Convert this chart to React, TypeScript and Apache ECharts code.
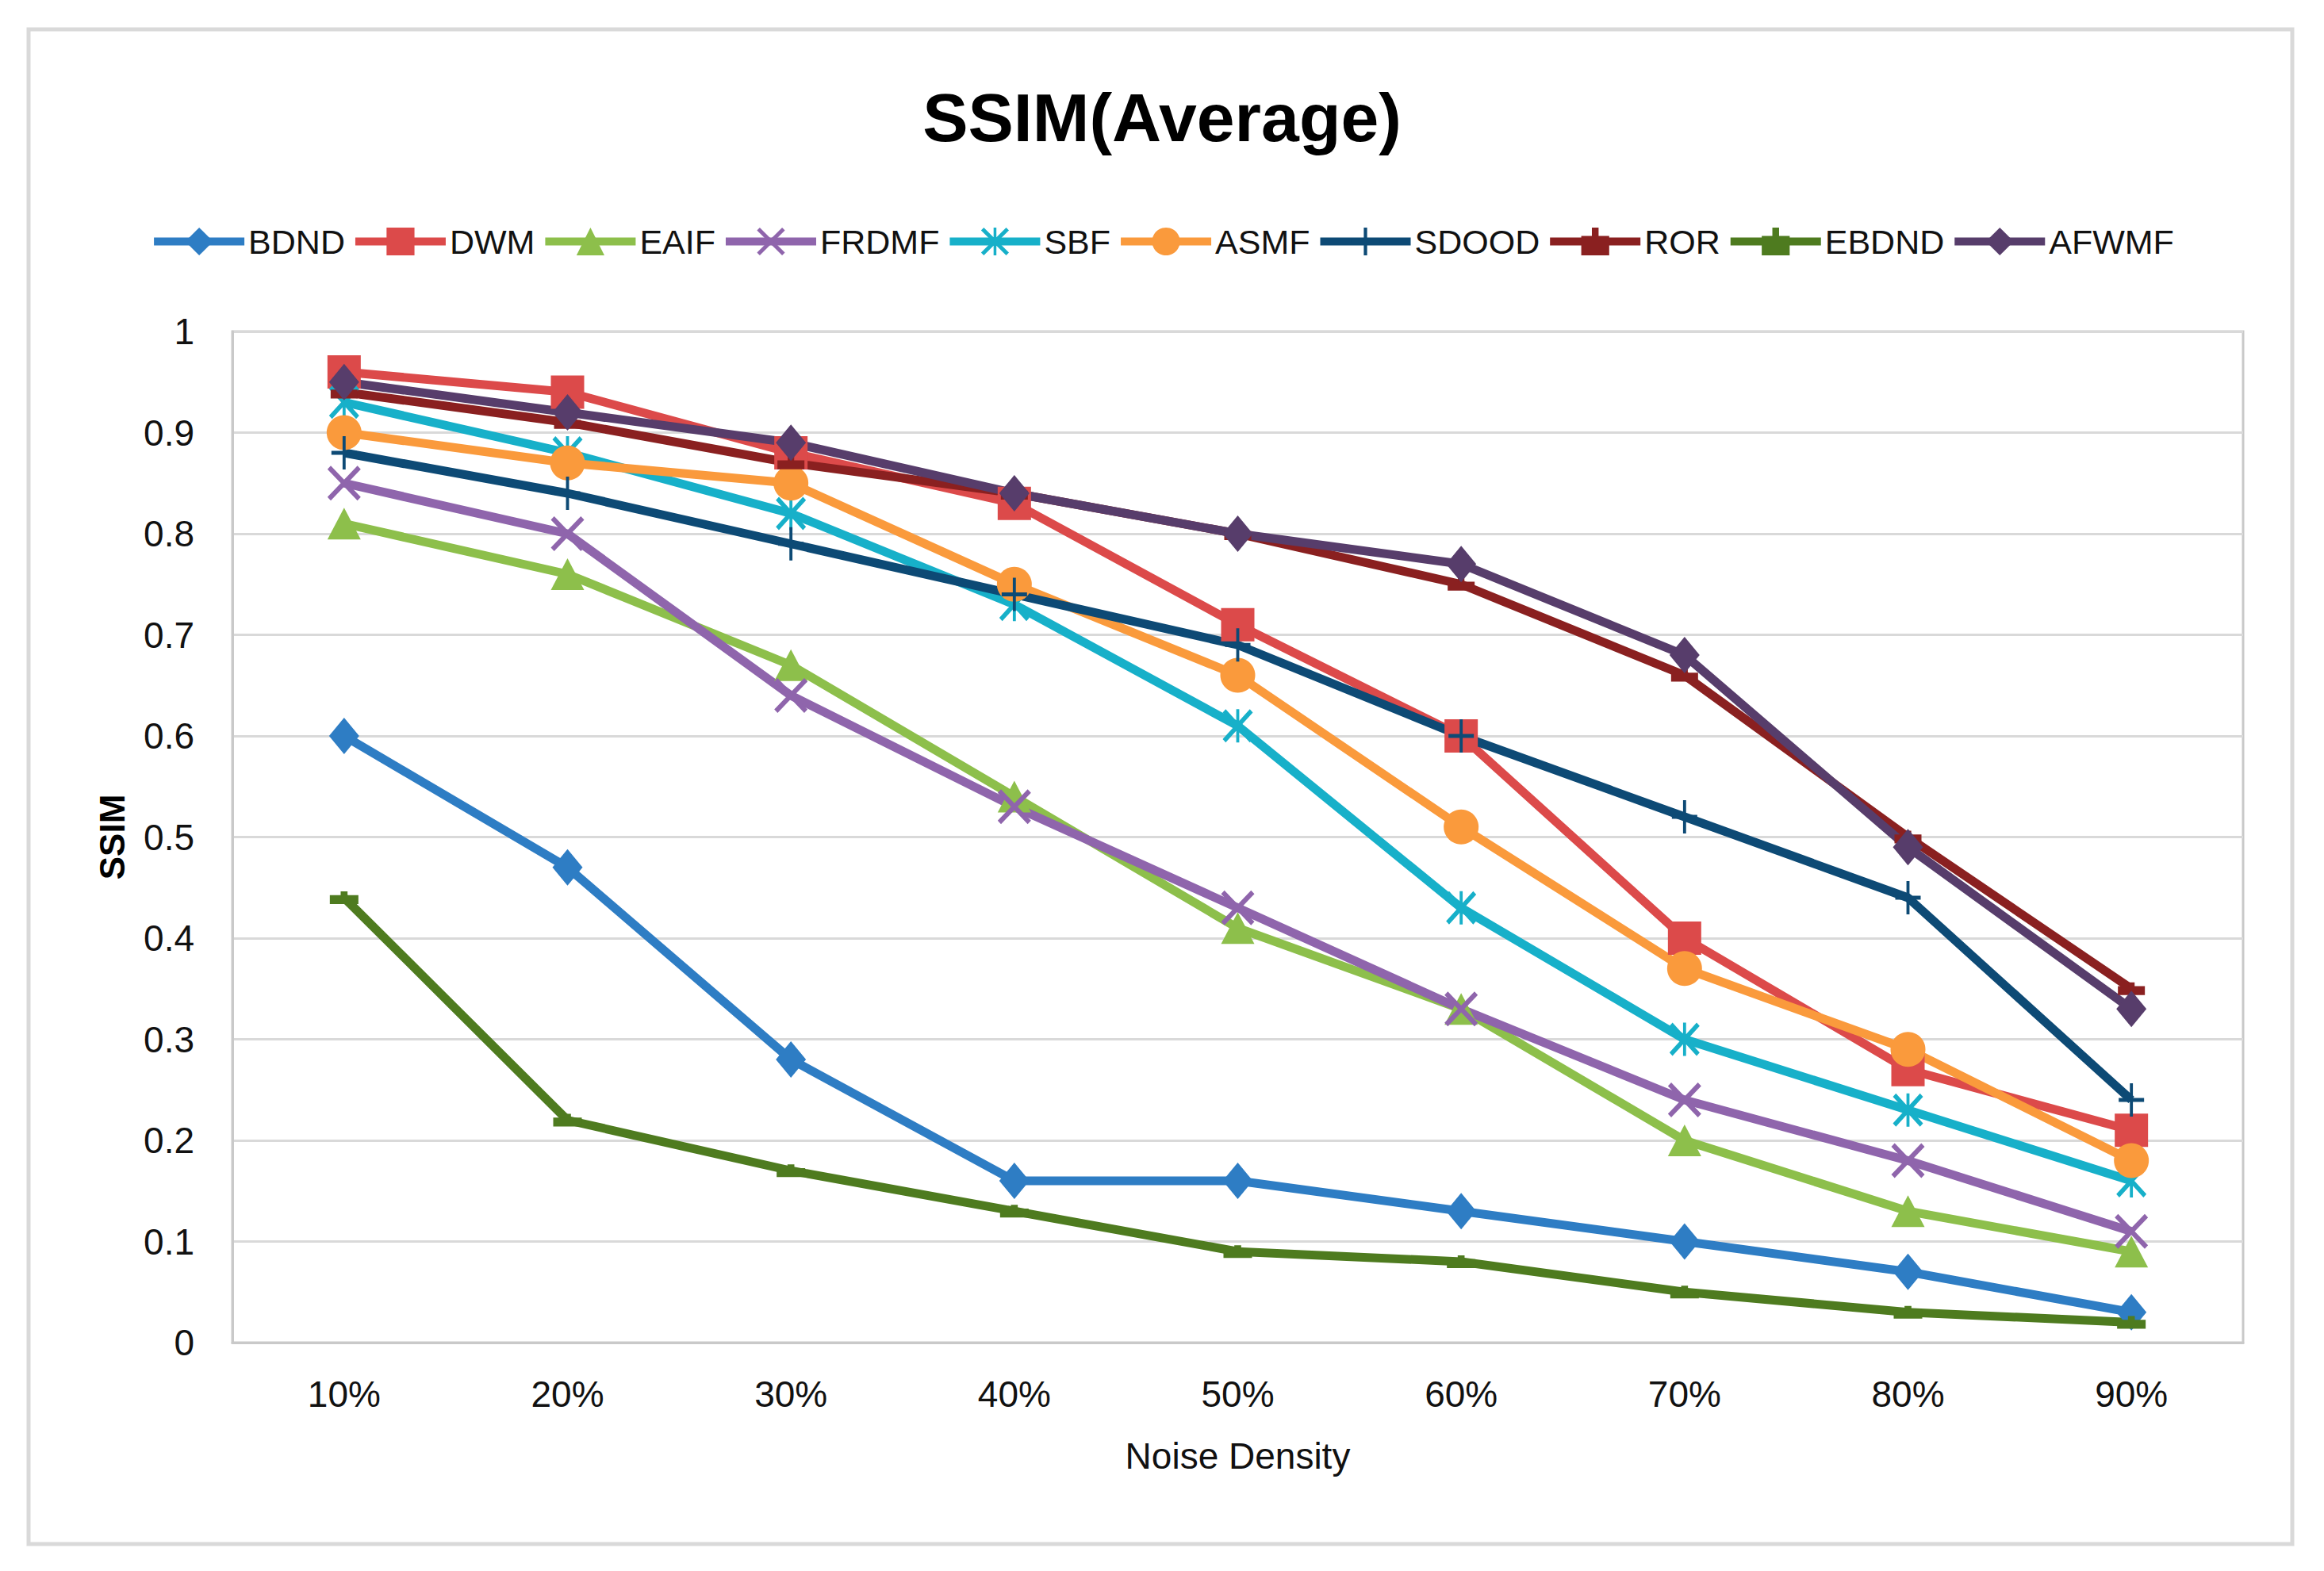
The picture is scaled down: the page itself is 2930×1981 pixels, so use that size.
import React, { useEffect, useRef } from "react";
import * as echarts from "echarts";

const categories = ["10%", "20%", "30%", "40%", "50%", "60%", "70%", "80%", "90%"];
const seriesNames = ["BDND", "DWM", "EAIF", "FRDMF", "SBF", "ASMF", "SDOOD", "ROR", "EBDND", "AFWMF"];

const BDND = [0.6, 0.47, 0.28, 0.16, 0.16, 0.13, 0.1, 0.07, 0.03];
const DWM = [0.96, 0.94, 0.88, 0.83, 0.71, 0.6, 0.4, 0.27, 0.21];
const EAIF = [0.81, 0.76, 0.67, 0.54, 0.41, 0.33, 0.2, 0.13, 0.09];
const FRDMF = [0.85, 0.8, 0.64, 0.53, 0.43, 0.33, 0.24, 0.18, 0.11];
const SBF = [0.93, 0.88, 0.82, 0.73, 0.61, 0.43, 0.3, 0.23, 0.16];
const ASMF = [0.9, 0.87, 0.85, 0.75, 0.66, 0.51, 0.37, 0.29, 0.18];
const SDOOD = [0.88, 0.84, 0.79, 0.74, 0.69, 0.6, 0.52, 0.44, 0.24];
const ROR = [0.94, 0.91, 0.87, 0.84, 0.8, 0.75, 0.66, 0.5, 0.35];
const EBDND = [0.44, 0.22, 0.17, 0.13, 0.09, 0.08, 0.05, 0.03, 0.02];
const AFWMF = [0.95, 0.92, 0.89, 0.84, 0.8, 0.77, 0.68, 0.49, 0.33];

const seriesValues = [BDND, DWM, EAIF, FRDMF, SBF, ASMF, SDOOD, ROR, EBDND, AFWMF];

const yTicks = { min: 0, max: 1, interval: 0.1 };

const X_PATH =
  "path://M10 0 L100 90 L90 100 L0 10 Z M100 10 L10 100 L0 90 L90 0 Z";
const STAR_PATH =
  "path://M10 0 L100 90 L90 100 L0 10 Z M100 10 L10 100 L0 90 L90 0 Z M45 0 L55 0 L55 100 L45 100 Z";
const PLUS_PATH =
  "path://M44 0 L56 0 L56 100 L44 100 Z M0 44 L100 44 L100 56 L0 56 Z";
const BAR_PATH = "path://M0 12 L38 12 L38 0 L62 0 L62 12 L100 12 L100 40 L0 40 Z";

const styles = [
  { color: "#2E7DC4", symbol: "diamond", size: [38, 46] },
  { color: "#DC4A4A", symbol: "rect", size: [42, 42] },
  { color: "#8DBF4B", symbol: "triangle", size: [42, 40] },
  { color: "#8F65AC", symbol: X_PATH, size: [42, 44] },
  { color: "#17B0C9", symbol: STAR_PATH, size: [38, 42] },
  { color: "#FA9A3C", symbol: "circle", size: [44, 44] },
  { color: "#0D4A75", symbol: PLUS_PATH, size: [32, 42] },
  { color: "#8A2020", symbol: BAR_PATH, size: [34, 16] },
  { color: "#4E7B1F", symbol: BAR_PATH, size: [36, 16] },
  { color: "#573D6B", symbol: "diamond", size: [38, 46] },
];

const FONT = "'Liberation Sans', Arial, sans-serif";

export default function App() {
  const ref = useRef<HTMLDivElement>(null);
  useEffect(() => {
    if (!ref.current) return;
    const chart = echarts.init(ref.current, null, { renderer: "svg" });
    const option = {
      animation: false,
      backgroundColor: "#ffffff",
      textStyle: { fontFamily: FONT },
      title: {
        text: "SSIM(Average)",
        left: "center",
        top: 100,
        textStyle: { fontFamily: FONT, fontWeight: "bold", fontSize: 86, color: "#000" },
      },
      legend: {
        data: seriesNames,
        left: "center",
        top: 278,
        itemWidth: 114,
        itemHeight: 44,
        itemGap: 8,
        lineStyle: { width: 10 },
        textStyle: { fontFamily: FONT, fontSize: 43, color: "#111" },
      },
      graphic: [
        {
          type: "rect",
          shape: { x: 36, y: 37, width: 2854, height: 1910 },
          style: { fill: "none", stroke: "#d9d9d9", lineWidth: 5 },
          silent: true,
        },
      ],
      grid: {
        left: 293,
        right: 102,
        top: 418,
        bottom: 288,
        show: true,
        borderColor: "#c9c9c9",
        borderWidth: 3,
        backgroundColor: "transparent",
      },
      xAxis: {
        type: "category",
        data: categories,
        boundaryGap: true,
        name: "Noise Density",
        nameLocation: "middle",
        nameGap: 120,
        nameTextStyle: { fontFamily: FONT, fontSize: 46, color: "#111" },
        axisTick: { show: false },
        axisLine: { lineStyle: { color: "#c9c9c9", width: 3 } },
        axisLabel: { fontFamily: FONT, fontSize: 46, color: "#111", margin: 42 },
      },
      yAxis: {
        type: "value",
        min: yTicks.min,
        max: yTicks.max,
        interval: yTicks.interval,
        name: "SSIM",
        nameLocation: "middle",
        nameGap: 130,
        nameTextStyle: { fontFamily: FONT, fontSize: 44, fontWeight: "bold", color: "#000" },
        axisLine: { show: true, lineStyle: { color: "#c9c9c9", width: 3 } },
        axisTick: { show: false },
        axisLabel: { fontFamily: FONT, fontSize: 46, color: "#111", margin: 48 },
        splitLine: { lineStyle: { color: "#d9d9d9", width: 3 } },
      },
      series: seriesNames.map((name, i) => ({
        name,
        type: "line",
        data: seriesValues[i],
        symbol: styles[i].symbol,
        symbolSize: styles[i].size,
        showAllSymbol: true,
        lineStyle: { color: styles[i].color, width: 11 },
        itemStyle: { color: styles[i].color },
        emphasis: { disabled: true },
      })),
    };
    chart.setOption(option as any);
    return () => chart.dispose();
  }, []);
  return (
    <div
      ref={ref}
      style={{ position: "absolute", left: 0, top: 0, width: 2930, height: 1981 }}
    />
  );
}
